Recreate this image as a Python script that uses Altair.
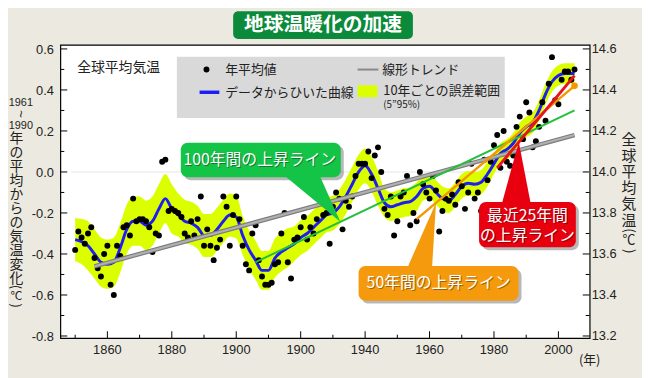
import altair as alt
import pandas as pd

# ---------------- data ----------------
years = list(range(1850, 2006))
annual_anomaly = [
    -0.38, -0.29, -0.32, -0.35, -0.30, -0.27, -0.42, -0.47, -0.51, -0.40,  # 1850s
    -0.36, -0.55, -0.60, -0.36, -0.41, -0.27, -0.26, -0.31, -0.13, -0.24,  # 1860s
    -0.23, -0.23, -0.24, -0.27, -0.39, -0.30, -0.31, 0.05, 0.06, -0.19,    # 1870s
    -0.18, -0.19, -0.20, -0.22, -0.30, -0.32, -0.24, -0.31, -0.23, -0.12,  # 1880s
    -0.36, -0.28, -0.36, -0.43, -0.37, -0.33, -0.12, -0.17, -0.36, -0.21,  # 1890s
    -0.12, -0.23, -0.36, -0.45, -0.48, -0.30, -0.26, -0.43, -0.51, -0.55,  # 1900s
    -0.55, -0.54, -0.45, -0.44, -0.30, -0.20, -0.44, -0.52, -0.33, -0.32,  # 1910s
    -0.27, -0.22, -0.33, -0.27, -0.30, -0.23, -0.10, -0.21, -0.20, -0.35,  # 1920s
    -0.17, -0.10, -0.13, -0.28, -0.14, -0.17, -0.12, -0.02, 0.04, 0.04,    # 1930s
    0.04, 0.10, -0.03, 0.08, 0.12, 0.00, -0.18, -0.21, -0.12, -0.31,       # 1940s
    -0.24, -0.12, -0.10, -0.02, -0.26, -0.20, -0.24, 0.00, -0.06, -0.10,   # 1950s
    -0.13, -0.02, -0.09, -0.29, -0.19, -0.13, -0.14, -0.11, -0.16, -0.05,  # 1960s
    -0.07, -0.18, -0.10, 0.04, -0.13, -0.10, -0.19, 0.06, -0.04, 0.05,     # 1970s
    0.13, 0.18, 0.02, 0.20, 0.05, 0.03, 0.08, 0.22, 0.27, 0.16,            # 1980s
    0.34, 0.29, 0.12, 0.15, 0.22, 0.34, 0.25, 0.43, 0.56, 0.35,            # 1990s
    0.33, 0.45, 0.49, 0.49, 0.45, 0.50,                                    # 2000-2005
]

curve_years = list(range(1850, 2005, 2)) + [2005]
curve_values = [
    -0.33, -0.34, -0.36, -0.40, -0.44, -0.45, -0.44, -0.37, -0.28, -0.24,
    -0.24, -0.26, -0.24, -0.18, -0.13, -0.18, -0.21, -0.24, -0.25, -0.27,
    -0.31, -0.31, -0.28, -0.24, -0.21, -0.22, -0.31, -0.38, -0.43, -0.48,
    -0.48, -0.42, -0.39, -0.37, -0.35, -0.32, -0.30, -0.27, -0.24, -0.21,
    -0.20, -0.17, -0.12, -0.06, 0.00, 0.03, -0.01, -0.08, -0.15, -0.17,
    -0.16, -0.15, -0.145, -0.12, -0.08, -0.07, -0.10, -0.13, -0.14, -0.11,
    -0.07, -0.055, -0.06, -0.05, -0.01, 0.04, 0.09, 0.11, 0.14, 0.19,
    0.22, 0.24, 0.30, 0.38, 0.44, 0.47, 0.48, 0.48,
    0.48,
]
band_halfwidth = [
    0.105, 0.11, 0.12, 0.12, 0.12, 0.12, 0.12, 0.12, 0.12, 0.12,
    0.12, 0.12, 0.12, 0.12, 0.12, 0.12, 0.105, 0.105, 0.105, 0.105,
    0.105, 0.105, 0.105, 0.105, 0.105, 0.105, 0.095, 0.095, 0.095, 0.095,
    0.095, 0.095, 0.095, 0.095, 0.085, 0.085, 0.085, 0.085, 0.085, 0.085,
    0.085, 0.085, 0.085, 0.085, 0.085, 0.085, 0.085, 0.085, 0.07, 0.07,
    0.07, 0.07, 0.07, 0.07, 0.06, 0.06, 0.06, 0.06, 0.06, 0.06,
    0.06, 0.06, 0.06, 0.06, 0.06, 0.05, 0.05, 0.05, 0.05, 0.05,
    0.05, 0.05, 0.05, 0.05, 0.05, 0.05, 0.05, 0.05,
    0.05,
]

trend_names = ["150年", "100年", "50年", "25年"]
trend_year_start = [1856, 1906, 1956, 1981]
trend_year_end = [2005, 2005, 2005, 2005]
trend_value_start = [-0.46, -0.44, -0.23, 0.02]
trend_value_end = [0.18, 0.30, 0.42, 0.47]

# where each callout pointer touches its trend line (year, anomaly)
pointer_year = [1932.3, 1962.0, 1987.7]
pointer_value = [-0.243, -0.150, 0.146]

x_major_ticks = [1860, 1880, 1900, 1920, 1940, 1960, 1980, 2000]
x_tick_labels = ["1860", "1880", "1900", "1900", "1940", "1960", "1980", "2000"]
x_minor_ticks = [1850, 1870, 1890, 1910, 1930, 1950, 1970, 1990]
y_major_ticks = [-0.8, -0.6, -0.4, -0.2, 0.0, 0.2, 0.4, 0.6]
y_tick_labels = ["-0.8", "-0.6", "-0.4", "-0.2", "0.0", "0.2", "0.4", "0.6"]
y_minor_ticks = [-0.7, -0.5, -0.3, -0.1, 0.1, 0.3, 0.5]
right_tick_labels = ["13.2", "13.4", "13.6", "13.8", "14.0", "14.2", "14.4", "14.6"]

# ---------------- styling ----------------
W, H = 536, 297
JP = "Noto Sans CJK JP"
LAT = "Liberation Sans"
BG = "#eceae0"
YELLOW = "#dcff00"
BLUE = "#1e1ef0"
GREEN_T = "#0a8a3a"
GREEN = "#14c446"
ORANGE = "#f59a0c"
RED = "#e8000e"

XS = alt.Scale(domain=[1845.4, 2009.7], nice=False, zero=False)
YS = alt.Scale(domain=[-0.8106, 0.6198], nice=False, zero=False)

dots_df = pd.DataFrame({"year": years, "anomaly": annual_anomaly})
curve_df = pd.DataFrame({"year": curve_years, "value": curve_values, "half": band_halfwidth})
curve_df["lo"] = curve_df["value"] - curve_df["half"]
curve_df["hi"] = curve_df["value"] + curve_df["half"]
one = pd.DataFrame({"k": [0]})


def X(field="year"):
    return alt.X(f"{field}:Q", scale=XS, axis=None)


def Y(field="value"):
    return alt.Y(f"{field}:Q", scale=YS, axis=None)


def px_text(text, x, y, size=13, color="#222", font=JP, align="left",
            baseline="middle", weight="normal", angle=None, line_height=None, opacity=1.0):
    kw = dict(align=align, baseline=baseline, font=font, fontSize=size,
              color=color, fontWeight=weight, opacity=opacity)
    if angle is not None:
        kw["angle"] = angle
    if line_height is not None:
        kw["lineHeight"] = line_height
    return alt.Chart(one).mark_text(**kw).encode(
        x=alt.value(x), y=alt.value(y), text=alt.value(text))


def px_rect(x1, x2, y1, y2, color, radius=0, opacity=1.0):
    return alt.Chart(one).mark_rect(color=color, cornerRadius=radius, opacity=opacity).encode(
        x=alt.value(x1), x2=alt.value(x2), y=alt.value(y1), y2=alt.value(y2))


def px_rule(x1, x2, y, color, width):
    return alt.Chart(one).mark_rule(color=color, strokeWidth=width).encode(
        x=alt.value(x1), x2=alt.value(x2), y=alt.value(y))


def trend_layer(i, color, width):
    df = pd.DataFrame({"year": [trend_year_start[i], trend_year_end[i]],
                       "value": [trend_value_start[i], trend_value_end[i]]})
    return alt.Chart(df).mark_line(color=color, strokeWidth=width, strokeCap="butt").encode(
        x=X(), y=Y())


def pointer(i, path, color):
    df = pd.DataFrame({"year": [pointer_year[i]], "value": [pointer_value[i]]})
    return alt.Chart(df).mark_point(shape=path, size=4, filled=True, opacity=1,
                                    color=color, strokeWidth=0).encode(x=X(), y=Y())


layers = []

# zero gridline
layers.append(alt.Chart(pd.DataFrame({"v": [0.0]})).mark_rule(color="#e6e6e6", strokeWidth=1).encode(
    y=Y("v"), x=alt.value(11), x2=alt.value(W)))

# error band
layers.append(alt.Chart(curve_df).mark_area(color=YELLOW, interpolate="monotone", opacity=1).encode(
    x=X(), y=Y("lo"), y2=alt.Y2("hi:Q")))

# smoothed curve
layers.append(alt.Chart(curve_df).mark_line(color=BLUE, strokeWidth=3, interpolate="monotone").encode(
    x=X(), y=Y()))

# annual means
layers.append(alt.Chart(dots_df).mark_circle(color="black", size=36, opacity=1).encode(
    x=X(), y=Y("anomaly")))

# trend lines
layers.append(trend_layer(0, "#7c7c7c", 4.5))
layers.append(trend_layer(0, "#b0b0b0", 2.2))
layers.append(trend_layer(1, "#22c03c", 2))
layers.append(trend_layer(2, "#f39800", 2.5))
layers.append(trend_layer(3, "#e8141c", 3))
layers.append(alt.Chart(pd.DataFrame({"year": [trend_year_end[2]], "value": [trend_value_end[2]]}))
              .mark_circle(color="#f39800", size=45, opacity=1).encode(x=X(), y=Y()))


# ---------------- axes: inward ticks and tick labels ----------------
def yticks(vals, length, right=False):
    x1 = W if right else 0
    x2 = W - length if right else length
    return alt.Chart(pd.DataFrame({"v": vals})).mark_rule(color="black", strokeWidth=1).encode(
        y=Y("v"), x=alt.value(x1), x2=alt.value(x2))


def xticks(vals, length):
    return alt.Chart(pd.DataFrame({"v": vals})).mark_rule(color="black", strokeWidth=1).encode(
        x=X("v"), y=alt.value(H), y2=alt.value(H - length))


ylab_df = pd.DataFrame({"v": y_major_ticks, "left": y_tick_labels, "right": right_tick_labels})
xlab_df = pd.DataFrame({"v": x_major_ticks, "label": x_tick_labels})

layers += [
    yticks(y_major_ticks, 7), yticks(y_minor_ticks, 4),
    yticks(y_major_ticks, 7, right=True), yticks(y_minor_ticks, 4, right=True),
    xticks(x_major_ticks, 7), xticks(x_minor_ticks, 3.5),
    alt.Chart(ylab_df).mark_text(align="right", baseline="middle", font=LAT, fontSize=13,
                                 color="#222", dy=1).encode(
        y=Y("v"), x=alt.value(-6.5), text="left:N"),
    alt.Chart(ylab_df).mark_text(align="left", baseline="middle", font=LAT, fontSize=13,
                                 color="#222", dy=0).encode(
        y=Y("v"), x=alt.value(W + 2), text="right:N"),
    alt.Chart(xlab_df).mark_text(align="center", baseline="middle", font=LAT, fontSize=13,
                                 color="#222").encode(
        x=X("v"), y=alt.value(H + 12.5), text="label:N"),
]

# legend
layers += [
    px_rect(118, 450, 12, 74, "#d9d9d9"),
    alt.Chart(one).mark_circle(color="black", size=36, opacity=1).encode(x=alt.value(148), y=alt.value(25)),
    px_text("年平均値", 167, 25),
    px_rule(301, 322, 25, "#888888", 2),
    px_text("線形トレンド", 326, 25),
    px_rule(141, 161, 48, BLUE, 3.5),
    px_text("データからひいた曲線", 167, 48.5),
    px_rect(301, 321, 41, 53, YELLOW),
    px_text("10年ごとの誤差範囲", 327, 46.5),
    px_text("(5\u201d95%)", 327, 60.5, size=10),
    px_text("全球平均気温", 17, 23.5, size=14),
]


# callouts
def callout(x1, x2, y1, y2, color, lines, tx, ty, i, path):
    out = [px_rect(x1 + 3, x2 + 3, y1 + 3, y2 + 3, "#000000", radius=7, opacity=0.28),
           pointer(i, path, color),
           px_rect(x1, x2, y1, y2, color, radius=7)]
    for k, s in enumerate(lines):
        out.append(px_text(s, tx + 1, ty + 20 * k + 1, size=16, color="#000000",
                           align="center", opacity=0.35))
        out.append(px_text(s, tx, ty + 20 * k, size=16, color="white", align="center"))
    return out


layers += callout(122, 284, 99, 134, GREEN, ["100年間の上昇ライン"], 202, 116.5, 0,
                  "M0,0 L-57,-47 L-21,-47 Z")
layers += callout(302, 464, 224, 259, ORANGE, ["50年間の上昇ライン"], 383, 241.5, 1,
                  "M0,0 L-29,66 L-4,66 Z")
layers += callout(424, 522, 159, 205, RED, ["最近25年間", "の上昇ライン"], 473, 173.5, 2,
                  "M0,0 L-17,62 L12,62 Z")

# title
layers += [
    px_rect(175, 357, -34, -6, GREEN_T, radius=5),
    px_text("地球温暖化の加速", 266, -20, size=20, color="white", align="center", weight="bold"),
]

# axis titles (vertical text)
layers += [
    px_text("1961", -40, 58.5, size=11, font=LAT, align="center"),
    px_text("~", -40, 70, size=13, font=LAT, align="center", angle=90),
    px_text("1990", -40, 82, size=11, font=LAT, align="center"),
    px_text(["年", "の", "平", "均", "か", "ら", "の", "気", "温", "変", "化"], -44.5, 88.8,
            size=14, align="center", baseline="top", line_height=14.15),
    px_text("(", -44.5, 245, size=13, align="center", angle=90),
    px_text("℃", -44.5, 254, size=12, align="center"),
    px_text(")", -44.5, 264, size=13, align="center", angle=90),
    px_text(["全", "球", "平", "均", "気", "温"], 575.7, 89.1,
            size=15, align="center", baseline="top", line_height=16.4),
    px_text("(", 575.7, 188, size=14, align="center", angle=90),
    px_text("℃", 575.7, 198, size=13, align="center"),
    px_text(")", 575.7, 209, size=14, align="center", angle=90),
    px_text("(年)", 536, 319.5, size=13, align="center"),
]

chart = (
    alt.layer(*layers)
    .properties(width=W, height=H,
                padding={"left": 53, "top": 35, "right": 53, "bottom": 38},
                autosize=alt.AutoSizeParams(type="none"))
    .configure(background=BG)
    .configure_view(fill="white", stroke="black", strokeWidth=1.2)
)

chart.save("out.html", embed_options={"renderer": "svg", "actions": False})
